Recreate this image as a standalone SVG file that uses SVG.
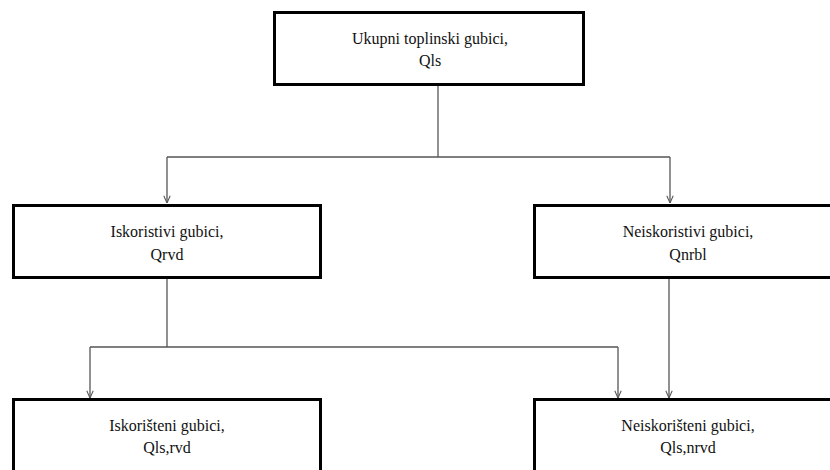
<svg xmlns="http://www.w3.org/2000/svg" width="830" height="470" viewBox="0 0 830 470">
  <style>
    .box { fill: #ffffff; stroke: #000000; stroke-width: 3; }
    .lbl { font-family: 'Liberation Serif', 'Times New Roman', 'DejaVu Serif', serif; font-size: 16px; fill: #111111; text-anchor: middle; }
    .conn { fill: none; stroke: #555555; stroke-width: 1.3; }
  </style>
  <defs>
    <marker id="arr" viewBox="0 0 10 10" refX="10" refY="5" markerWidth="8" markerHeight="8" markerUnits="userSpaceOnUse" orient="auto">
      <path d="M1,1 L10,5 L1,9" fill="none" stroke="#555555" stroke-width="1.3"/>
    </marker>
  </defs>
  <rect width="830" height="470" fill="#ffffff"/>

  <g id="connectors">
    <path class="conn" d="M438,86 V157"/>
    <path class="conn" d="M167,157 H670"/>
    <path class="conn" d="M167,157 V203" marker-end="url(#arr)"/>
    <path class="conn" d="M670,157 V203" marker-end="url(#arr)"/>
    <path class="conn" d="M167,279 V347"/>
    <path class="conn" d="M90,347 H618"/>
    <path class="conn" d="M90,347 V398" marker-end="url(#arr)"/>
    <path class="conn" d="M618,347 V398" marker-end="url(#arr)"/>
    <path class="conn" d="M669,279 V398" marker-end="url(#arr)"/>
  </g>

  <g id="node-qls">
    <rect class="box" x="274.5" y="12.5" width="309" height="72"/>
    <text class="lbl" font-family="Liberation Serif, serif" x="430" y="44">Ukupni toplinski gubici,</text>
    <text class="lbl" font-family="Liberation Serif, serif" x="430" y="66">Qls</text>
  </g>

  <g id="node-qrvd">
    <rect class="box" x="13.5" y="205.5" width="307" height="72"/>
    <text class="lbl" font-family="Liberation Serif, serif" x="167" y="237">Iskoristivi gubici,</text>
    <text class="lbl" font-family="Liberation Serif, serif" x="167" y="260">Qrvd</text>
  </g>

  <g id="node-qnrbl">
    <rect class="box" x="534.5" y="205.5" width="330" height="72"/>
    <text class="lbl" font-family="Liberation Serif, serif" x="688" y="237">Neiskoristivi gubici,</text>
    <text class="lbl" font-family="Liberation Serif, serif" x="688" y="260">Qnrbl</text>
  </g>

  <g id="node-qls-rvd">
    <rect class="box" x="13.5" y="399.5" width="307" height="80"/>
    <text class="lbl" font-family="Liberation Serif, serif" x="167" y="431">Iskorišteni gubici,</text>
    <text class="lbl" font-family="Liberation Serif, serif" x="167" y="453">Qls,rvd</text>
  </g>

  <g id="node-qls-nrvd">
    <rect class="box" x="534.5" y="399.5" width="330" height="80"/>
    <text class="lbl" font-family="Liberation Serif, serif" x="688" y="431">Neiskorišteni gubici,</text>
    <text class="lbl" font-family="Liberation Serif, serif" x="688" y="453">Qls,nrvd</text>
  </g>
</svg>
